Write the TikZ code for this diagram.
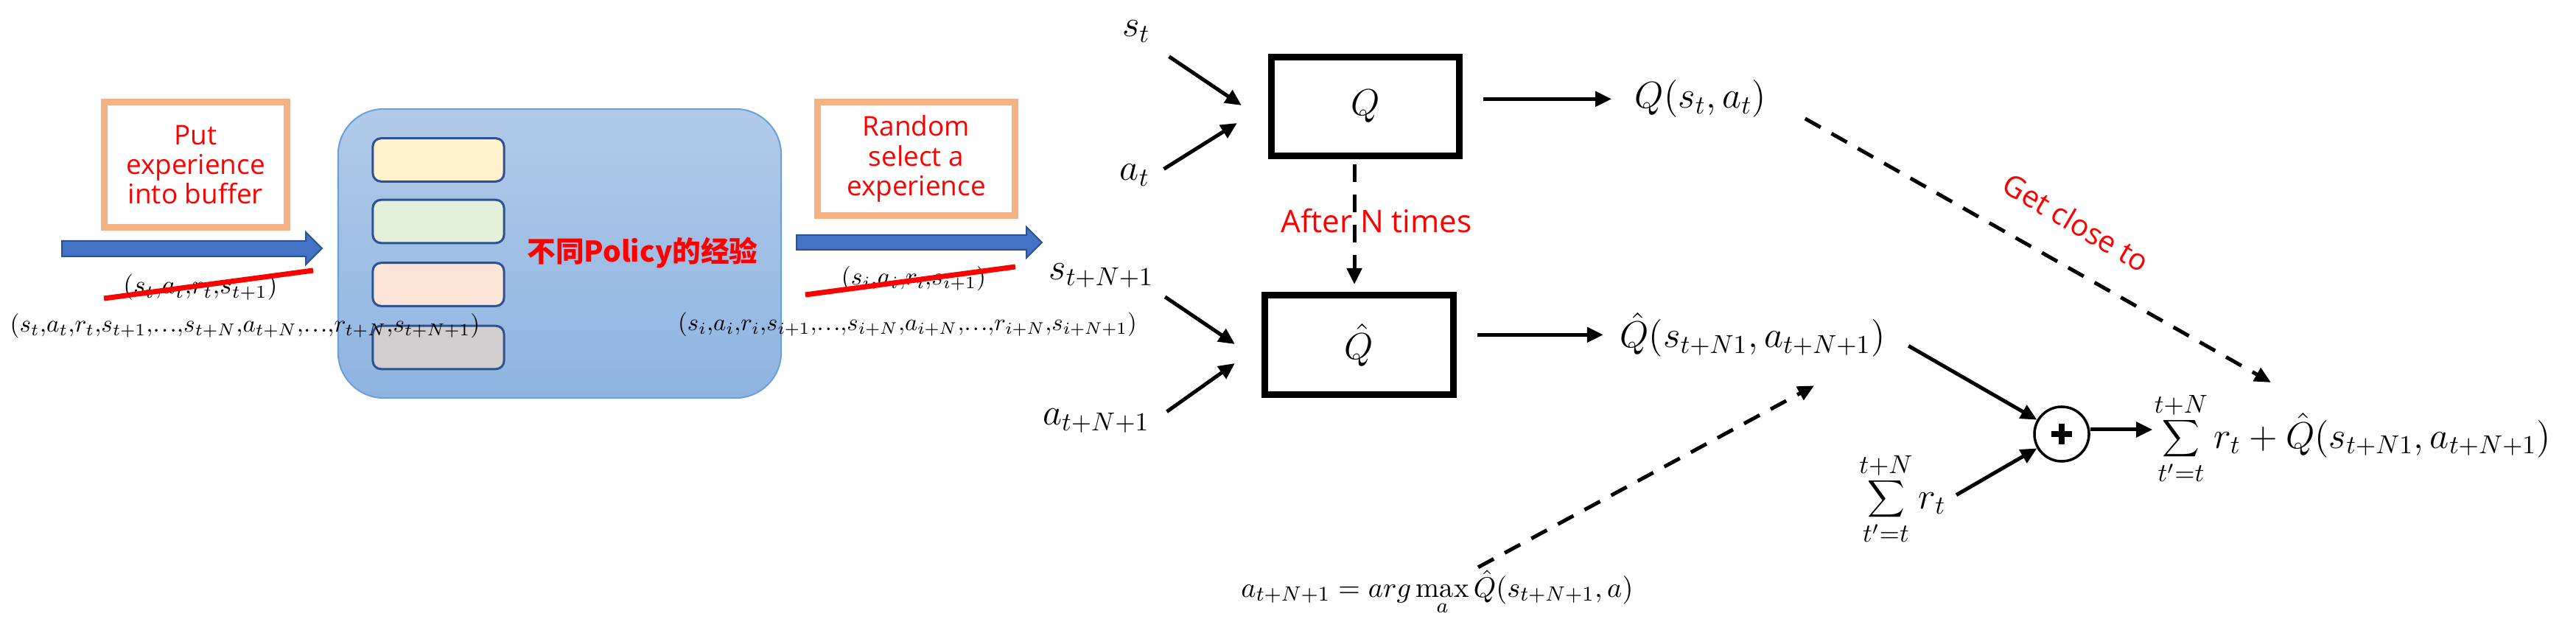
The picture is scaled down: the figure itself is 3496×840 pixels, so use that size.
\documentclass[tikz,border=0pt]{standalone}
\usepackage{fontspec}
\newfontfamily\handfont{Open Sans}
\newfontfamily\cjkfont{Noto Sans CJK SC}
\usetikzlibrary{arrows.meta}
\definecolor{orangeb}{HTML}{F4B183}
\definecolor{blueA}{HTML}{4472C4}
\definecolor{blueB}{HTML}{2F528F}
\definecolor{buft}{HTML}{B1CAE8}
\definecolor{bufbot}{HTML}{8FB4E2}
\definecolor{bufb}{HTML}{6A9FD8}
\definecolor{slotb}{HTML}{2F528F}
\definecolor{slotY}{HTML}{FFF2CC}
\definecolor{slotG}{HTML}{E2F0D9}
\definecolor{slotP}{HTML}{FBE5D6}
\definecolor{slotR}{HTML}{D0CECE}
\newcommand{\tdots}{\mathord{.\kern0.07em.\kern0.07em.}}
\begin{document}
\begin{tikzpicture}[x=0.01cm, y=-0.01cm,
  arr/.style={line width=0.05cm, -{Triangle[length=0.22cm,width=0.2cm]}},
  darr/.style={line width=0.05cm, dash pattern=on 0.24cm off 0.17cm, -{Triangle[length=0.22cm,width=0.2cm]}},
  lbl/.style={inner sep=0.05cm, font=\fontsize{14.4}{17}\selectfont},
  tup/.style={inner sep=0.03cm, font=\fontsize{10}{12}\selectfont, transform shape},
  hand/.style={text=red, align=center, font=\handfont\fontsize{10.5}{11.4}\selectfont},
  obox/.style={draw=orangeb, line width=0.09cm, fill=white, inner sep=0},
  qbox/.style={draw=black, line width=0.09cm, fill=white, font=\fontsize{14.4}{17}\selectfont},
  slot/.style={draw=slotb, line width=0.03cm, rounded corners=0.11cm, minimum width=1.78cm, minimum height=0.585cm},
  strike/.style={red, line width=0.07cm},
  bluearrow/.style={fill=blueA, draw=blueB, line width=0.02cm}]
\useasboundingbox (0,0) rectangle (3496,840);
\fill[white] (0,0) rectangle (3496,840);

% left part
\node[obox, hand, minimum width=2.48cm, minimum height=1.70cm] (put) at (265.5,223.5) {Put\\experience\\into buffer};
\filldraw[bluearrow] (84,327) -- (415,327) -- (415,315) -- (437,337) -- (415,359) -- (415,348) -- (84,348) -- cycle;

\node[draw=bufb, line width=0.02cm, rounded corners=0.62cm, top color=buft, bottom color=bufbot,
      minimum width=6.01cm, minimum height=3.92cm] (buf) at (759.5,344) {};
\node[slot, fill=slotY] (s1) at (595,217) {};
\node[slot, fill=slotG] (s2) at (595,300.5) {};
\node[slot, fill=slotP] (s3) at (595,386) {};
\node[slot, fill=slotR] (s4) at (595,471.5) {};
\node[text=red, font=\cjkfont\bfseries\fontsize{11}{13}\selectfont, inner sep=0] (policy) at (872,343) {不同Policy的经验};

\node[tup] (old1) at (272,390) {$(s_t{,}a_t{,}r_t{,}s_{t+1})$};
\draw[strike] (141,405) -- (425,367);
\node[tup, scale=0.945] (new1) at (332.5,442) {$(s_t{,}a_t{,}r_t{,}s_{t+1}{,}\tdots{,}s_{t+N}{,}a_{t+N}{,}\tdots{,}r_{t+N}{,}s_{t+N+1})$};

\node[obox, hand, minimum width=2.67cm, minimum height=1.54cm] (rand) at (1243.5,215.5) {Random\\select a\\experience};
\filldraw[bluearrow] (1081,319) -- (1393,319) -- (1393,308) -- (1414,329) -- (1393,350) -- (1393,339) -- (1081,339) -- cycle;
\node[tup, scale=0.95] (old2) at (1240,378) {$(s_i{,}a_i{,}r_i{,}s_{i+1})$};
\draw[strike] (1093,400) -- (1378,362);
\node[tup, scale=0.93] (new2) at (1231.5,440) {$(s_i{,}a_i{,}r_i{,}s_{i+1}{,}\tdots{,}s_{i+N}{,}a_{i+N}{,}\tdots{,}r_{i+N}{,}s_{i+N+1})$};

% right part
\node[lbl, anchor=base] (st) at (1542,50) {$s_t$};
\node[lbl, anchor=base] (at) at (1540,245) {$a_t$};
\node[lbl, anchor=base] (stN) at (1494.5,380) {$s_{t+N+1}$};
\node[lbl, anchor=base] (atN) at (1487.5,577) {$a_{t+N+1}$};
\node[qbox, minimum width=2.54cm, minimum height=1.33cm] (Q) at (1853,144.5) {$Q$};
\node[qbox, minimum width=2.55cm, minimum height=1.34cm] (Qh) at (1844.5,468) {$\hat{Q}$};
\node[lbl, anchor=base] (qst) at (2308,147) {$Q(s_t,a_t)$};
\node[lbl, anchor=base] (qhv) at (2378.5,472) {$\hat{Q}(s_{t+N1},a_{t+N+1})$};
\node[inner sep=0.03cm, anchor=base, font=\fontsize{10.95}{13}\selectfont] (am) at (1950.5,810) {$\displaystyle a_{t+N+1}=arg\max_a\hat{Q}(s_{t+N+1},a)$};
\node[draw, circle, line width=0.035cm, minimum size=0.74cm, inner sep=0,
  path picture={\draw[line width=0.075cm] ([xshift=-0.14cm]path picture bounding box.center) -- ([xshift=0.14cm]path picture bounding box.center)
    ([yshift=-0.14cm]path picture bounding box.center) -- ([yshift=0.14cm]path picture bounding box.center);}] (plus) at (2798,589) {};
\node[lbl, inner sep=0, anchor=base] (res) at (3193,608) {$\displaystyle\sum_{t'=t}^{t+N} r_t+\hat{Q}(s_{t+N1},a_{t+N+1})$};
\node[lbl, anchor=base] (sumr) at (2582,690) {$\displaystyle\sum_{t'=t}^{t+N} r_t$};

\node[text=red, font=\handfont\fontsize{12}{14}\selectfont, inner sep=0] (after) at (1868,300) {After N times};
\node[text=red, font=\handfont\fontsize{11.5}{13}\selectfont, rotate=-30.5, inner sep=0] (close) at (2818,302) {Get close to};

% connectors
\coordinate (q-in1) at ([xshift=-0.365cm, yshift=0.015cm]Q.west);
\coordinate (q-in2) at ([xshift=-0.425cm, yshift=-0.225cm]Q.west);
\coordinate (qh-in1) at ([xshift=-0.365cm, yshift=0.01cm]Qh.west);
\coordinate (qh-in2) at ([xshift=-0.365cm, yshift=-0.25cm]Qh.west);
\draw[arr, shorten <=0.24cm] (st.south east) -- (q-in1);
\draw[arr, shorten <=0.16cm] (at.east) -- (q-in2);
\draw[arr, shorten <=0.12cm] (stN.south east) -- (qh-in1);
\draw[arr, shorten <=0.22cm] (atN.east) -- (qh-in2);

\coordinate (d-top) at ([xshift=-0.15cm]Q.south);
\draw[darr, shorten <=0.075cm, shorten >=0.105cm] (d-top) -- (d-top |- Qh.north);

\draw[arr, shorten <=0.285cm, shorten >=0.26cm] (Q.east |- qst) -- (qst.west);
\draw[arr, shorten <=0.285cm, shorten >=0.17cm] (Qh.east |- qhv) -- (qhv.west);

\coordinate (gc-tip) at ([xshift=-1.11cm, yshift=0.13cm]res.north);
\draw[darr, shorten <=0.54cm] (qst.east) -- (gc-tip);
\coordinate (am-tip) at ([xshift=0.835cm, yshift=-0.33cm]qhv.south);
\coordinate (am-start) at ([xshift=0.555cm]am.north);
\draw[darr] (am-start) -- (am-tip);

\draw[arr, shorten <=0.3cm] (qhv.east) -- (plus);
\draw[arr, shorten <=0.1cm] (sumr.east) -- (plus);
\coordinate (p-out) at ([yshift=0.06cm]plus.east);
\draw[arr, shorten >=0.02cm] (p-out) -- (p-out -| res.west);
\end{tikzpicture}
\end{document}
